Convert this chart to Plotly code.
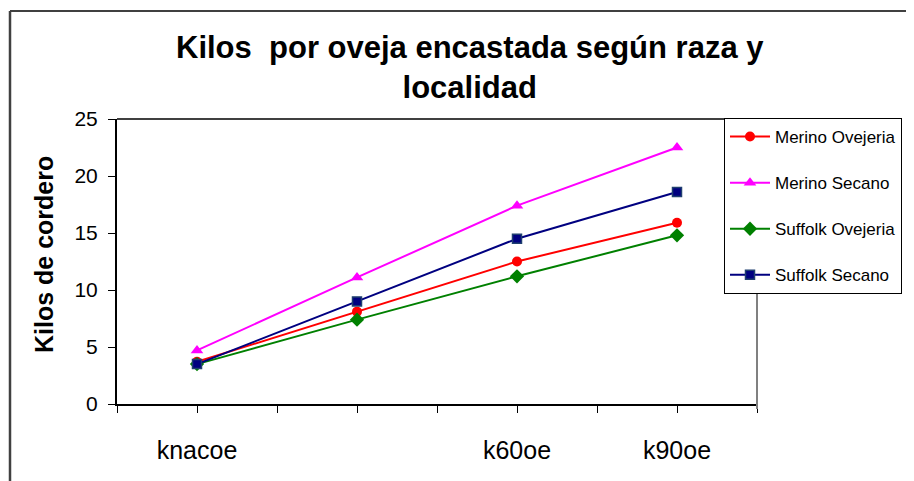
import plotly.graph_objects as go

categories = ["knacoe", "", "k60oe", "k90oe"]
merino_ovejeria = [3.7, 8.1, 12.5, 15.9]
merino_secano = [4.7, 11.1, 17.4, 22.5]
suffolk_ovejeria = [3.5, 7.4, 11.2, 14.8]
suffolk_secano = [3.5, 9.0, 14.5, 18.6]
series_names = ["Merino Ovejeria", "Merino Secano", "Suffolk Ovejeria", "Suffolk Secano"]

FONT = "Liberation Sans, Arial, sans-serif"
x_pos = [2 * i + 1 for i in range(len(categories))]
tick_vals = list(range(0, 2 * len(categories) + 1))
tick_text = [""] * len(tick_vals)
for i, c in enumerate(categories):
    tick_text[2 * i + 1] = c

styles = [
    dict(color="#FF0000", symbol="circle", size=10, lc="#FF0000"),
    dict(color="#FF00FF", symbol="triangle-up", size=11, lc="#FF00FF"),
    dict(color="#008000", symbol="diamond", size=11, lc="#008000"),
    dict(color="#000080", symbol="square", size=9, lc="#1F3F6F"),
]
values = [merino_ovejeria, merino_secano, suffolk_ovejeria, suffolk_secano]

fig = go.Figure()
for name, vals, st in zip(series_names, values, styles):
    fig.add_trace(go.Scatter(
        x=x_pos, y=vals, name=name, mode="lines+markers",
        legendgroup=name,
        line=dict(color=st["color"], width=2),
        marker=dict(symbol=st["symbol"], size=st["size"], color=st["color"],
                    line=dict(color=st["lc"], width=1.5 if st["symbol"] == "square" else 0)),
    ))

W, H = 914, 481
OFF = 8  # page body offset
L, R, T, B = 117, 757, 119, 404  # plot area in page pixels
def px(xp):
    return (xp - L) / (R - L)
def py(yp):
    return (B - yp) / (B - T)

fig.update_layout(
    width=W, height=H,
    margin=dict(l=L - OFF, r=W - (R - OFF), t=T - OFF, b=H - (B - OFF), autoexpand=False),
    paper_bgcolor="white", plot_bgcolor="white",
    font=dict(family=FONT, color="black"),
    showlegend=True,
    legend=dict(
        x=px(724), y=py(118), xanchor="left", yanchor="top",
        bordercolor="black", borderwidth=1,
        font=dict(size=17, family=FONT, color="black"),
        tracegroupgap=21, traceorder="grouped", itemwidth=40,
        bgcolor="white",
    ),
    xaxis=dict(
        range=[0, 2 * len(categories)], tickvals=tick_vals, ticktext=tick_text,
        ticks="outside", ticklen=7, tickcolor="black", tickwidth=1,
        showline=True, linecolor="black", linewidth=2, showgrid=False, zeroline=False,
        tickfont=dict(size=25, family=FONT, color="black"),
        ticklabelstandoff=16,
    ),
    yaxis=dict(
        range=[0, 25], dtick=5, ticks="outside", ticklen=7, tickcolor="black",
        showline=True, linecolor="black", linewidth=2, showgrid=False, zeroline=False,
        tickfont=dict(size=21, family=FONT, color="black"),
        ticklabelstandoff=6,
    ),
    annotations=[
        dict(text="<b>Kilos  por oveja encastada según raza y<br>localidad</b>",
             xref="paper", yref="paper", x=px(470), y=py(67.5),
             xanchor="center", yanchor="middle", showarrow=False,
             font=dict(size=31, family=FONT, color="black")),
        dict(text="<b>Kilos de cordero</b>", textangle=-90,
             xref="paper", yref="paper", x=px(44), y=py(255),
             xanchor="center", yanchor="middle", showarrow=False,
             font=dict(size=25, family=FONT, color="black")),
    ],
    shapes=[
        dict(type="line", xref="paper", yref="paper", x0=0, x1=1, y0=1, y1=1,
             line=dict(color="black", width=1.5)),
        dict(type="line", xref="paper", yref="paper", x0=1, x1=1, y0=py(409), y1=1,
             line=dict(color="#808080", width=2)),
        dict(type="line", xref="paper", yref="paper", x0=px(10), x1=px(930), y0=py(11), y1=py(11),
             line=dict(color="black", width=1.5)),
        dict(type="line", xref="paper", yref="paper", x0=px(10), x1=px(10), y0=py(11), y1=py(500),
             line=dict(color="#404040", width=2.5)),
    ],
)

fig.write_html("out.html")
